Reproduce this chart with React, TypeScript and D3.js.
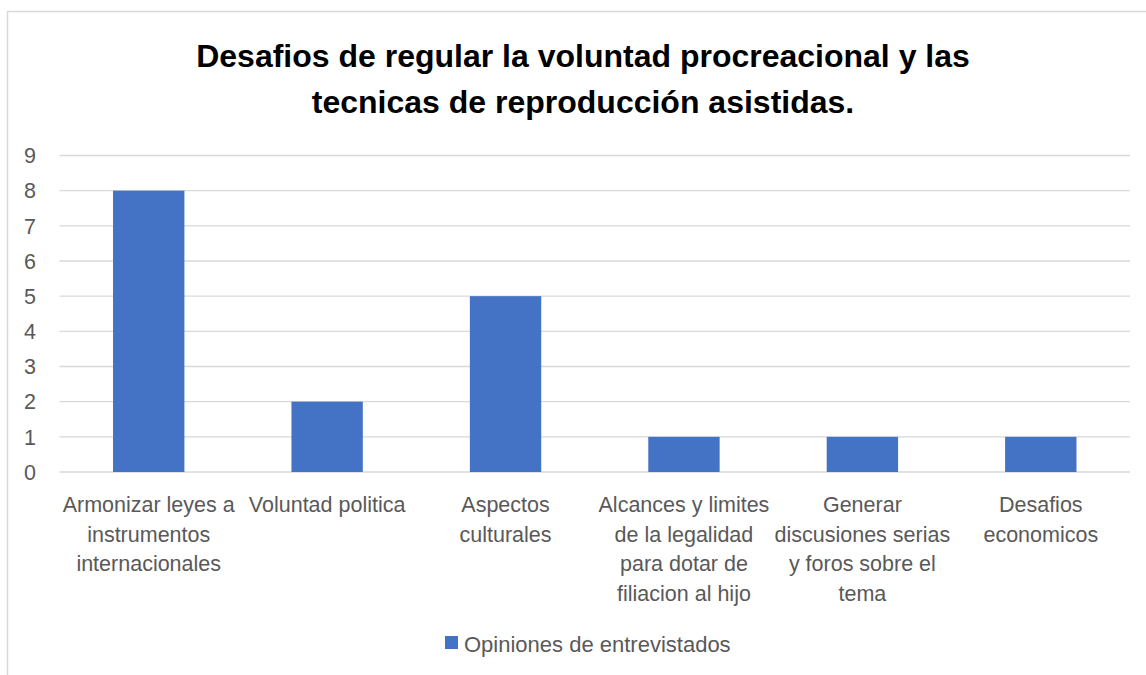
import React, { useEffect, useRef } from "react";
import * as d3 from "d3";

const categories = [
  "Armonizar leyes a instrumentos internacionales",
  "Voluntad politica",
  "Aspectos culturales",
  "Alcances y limites de la legalidad para dotar de filiacion al hijo",
  "Generar discusiones serias y foros sobre el tema",
  "Desafios economicos",
];
const labelLines = [
  ["Armonizar leyes a", "instrumentos", "internacionales"],
  ["Voluntad politica"],
  ["Aspectos", "culturales"],
  ["Alcances y limites", "de la legalidad", "para dotar de", "filiacion al hijo"],
  ["Generar", "discusiones serias", "y foros sobre el", "tema"],
  ["Desafios", "economicos"],
];
const values = [8, 2, 5, 1, 1, 1];
const yTicks = [0, 1, 2, 3, 4, 5, 6, 7, 8, 9];
const seriesName = "Opiniones de entrevistados";
const titleLines = [
  "Desafios de regular la voluntad procreacional y las",
  "tecnicas de reproducción asistidas.",
];

const App = () => {
  const svgRef = useRef<SVGSVGElement>(null);

  useEffect(() => {
    const width = 1146;
    const height = 675;
    const font = "'Liberation Sans', Arial, sans-serif";
    const svg = d3.select(svgRef.current);
    svg.selectAll("*").remove();
    svg.attr("width", width).attr("height", height);

    svg.append("rect").attr("width", width).attr("height", height).attr("fill", "#fff");

    // chart area border (runs off the right and bottom edges)
    svg
      .append("rect")
      .attr("x", 7.5)
      .attr("y", 11.5)
      .attr("width", 1160)
      .attr("height", 700)
      .attr("fill", "none")
      .attr("stroke", "#D9D9D9")
      .attr("stroke-width", 1.5);

    const x = d3
      .scaleBand()
      .domain(categories)
      .range([59.5, 1130])
      .paddingInner(0.6)
      .paddingOuter(0.3);

    const y = d3.scaleLinear().domain([0, 9]).range([472, 155.5]);

    // title
    svg
      .append("text")
      .attr("text-anchor", "middle")
      .attr("font-family", font)
      .attr("font-weight", "bold")
      .attr("font-size", 32)
      .attr("fill", "#000")
      .selectAll("tspan")
      .data(titleLines)
      .enter()
      .append("tspan")
      .attr("x", 583)
      .attr("y", (d, i) => 67 + i * 46)
      .text((d) => d);

    // gridlines
    svg
      .append("g")
      .selectAll("line")
      .data(yTicks)
      .enter()
      .append("line")
      .attr("x1", 59.5)
      .attr("x2", 1130)
      .attr("y1", (d) => y(d))
      .attr("y2", (d) => y(d))
      .attr("stroke", "#D9D9D9")
      .attr("stroke-width", 1.3);

    // y tick labels
    svg
      .append("g")
      .selectAll("text")
      .data(yTicks)
      .enter()
      .append("text")
      .attr("x", 36)
      .attr("y", (d) => y(d))
      .attr("dy", "0.36em")
      .attr("text-anchor", "end")
      .attr("font-family", font)
      .attr("font-size", 21.5)
      .attr("fill", "#595959")
      .text((d) => d);

    // bars
    svg
      .append("g")
      .selectAll("rect")
      .data(values)
      .enter()
      .append("rect")
      .attr("x", (d, i) => x(categories[i]) as number)
      .attr("y", (d) => y(d))
      .attr("width", x.bandwidth())
      .attr("height", (d) => y(0) - y(d))
      .attr("fill", "#4472C4");

    // category labels
    const labels = svg
      .append("g")
      .selectAll("text")
      .data(categories)
      .enter()
      .append("text")
      .attr("text-anchor", "middle")
      .attr("font-family", font)
      .attr("font-size", 21.5)
      .attr("fill", "#595959");

    labels
      .selectAll("tspan")
      .data((d, i) => labelLines[i].map((line) => ({ line, cat: d })))
      .enter()
      .append("tspan")
      .attr("x", (d) => (x(d.cat) as number) + x.bandwidth() / 2)
      .attr("y", (d, j) => 512 + j * 29.5)
      .text((d) => d.line);

    // legend
    const legend = svg.append("g");
    legend
      .append("rect")
      .attr("x", 445)
      .attr("y", 636)
      .attr("width", 13)
      .attr("height", 13)
      .attr("fill", "#4472C4");
    legend
      .append("text")
      .attr("x", 464)
      .attr("y", 652)
      .attr("font-family", font)
      .attr("font-size", 22)
      .attr("fill", "#595959")
      .text(seriesName);
  }, []);

  return <svg ref={svgRef} style={{ position: "absolute", left: 0, top: 0 }} />;
};

export default App;
